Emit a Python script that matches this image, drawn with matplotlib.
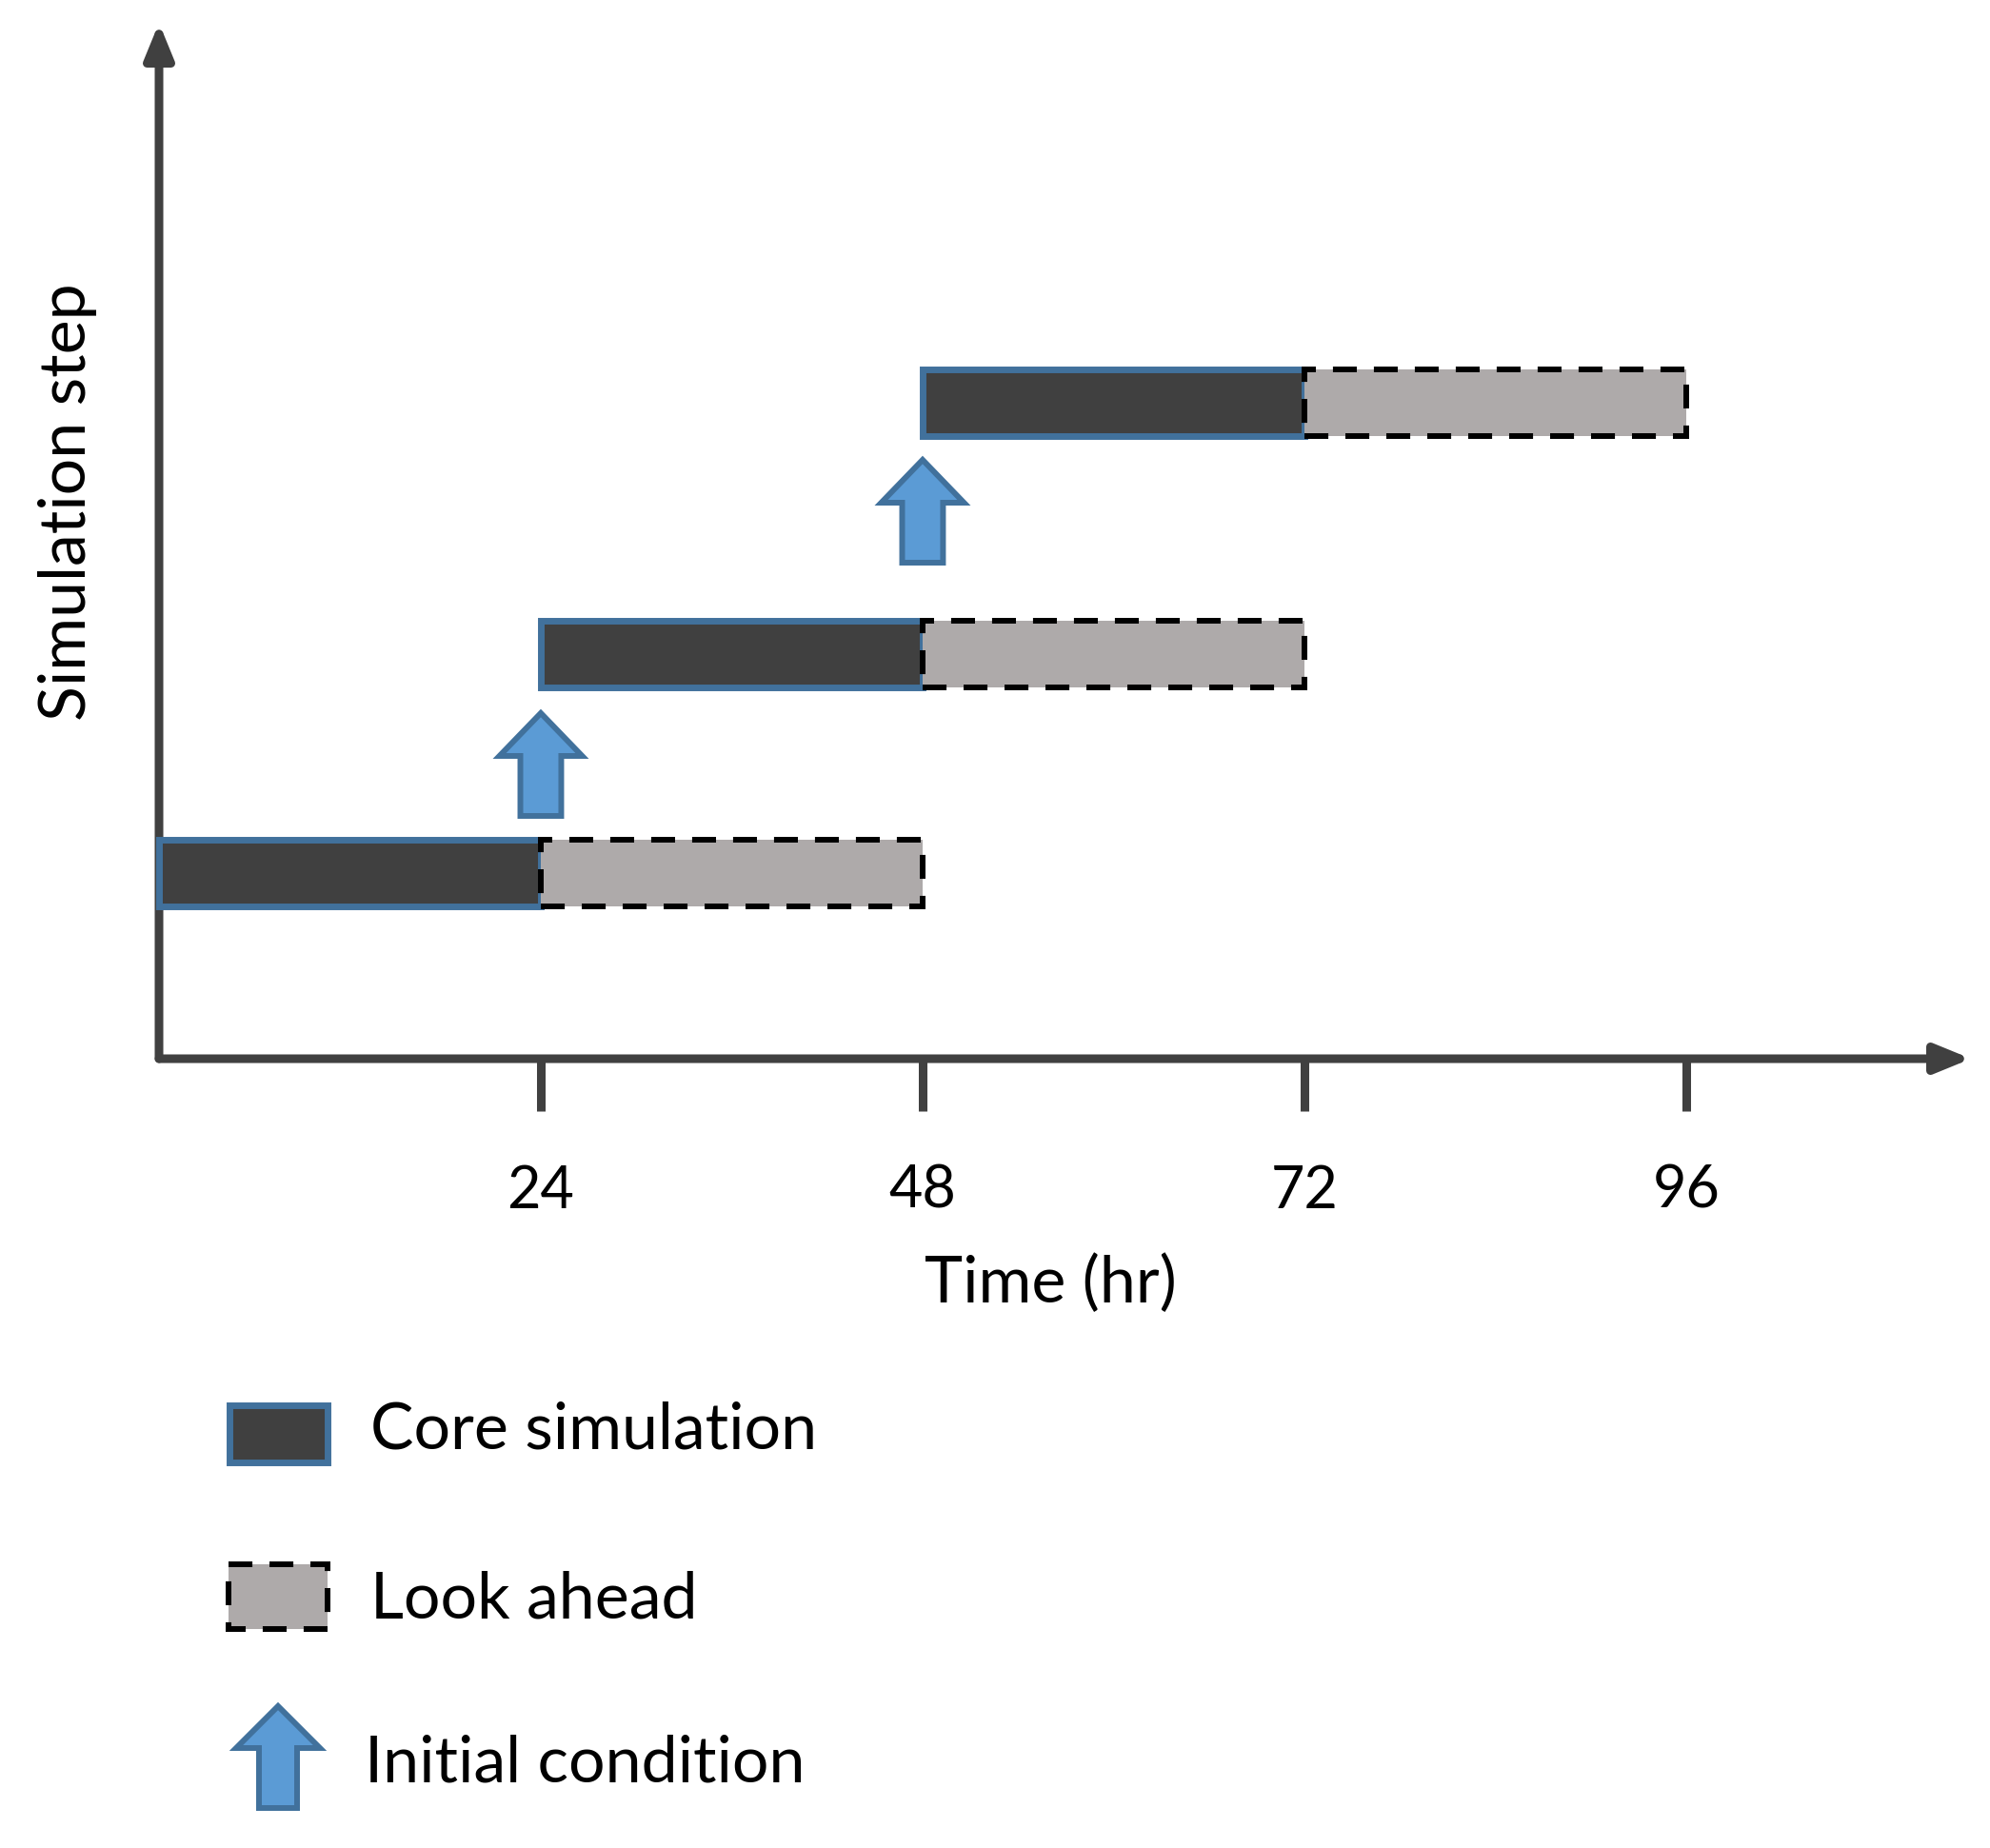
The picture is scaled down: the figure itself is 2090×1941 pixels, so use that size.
import matplotlib.pyplot as plt
from matplotlib.patches import FancyArrow, Rectangle

plt.rcParams['font.family'] = ['Lato', 'DejaVu Sans']

# simulation windows, in hours
core_start = [0, 24, 48]
core_len = [24, 24, 24]
look_len = [24, 24, 24]
# vertical level of each simulation step (arbitrary units)
step_level = [1.945, 4.255, 6.89]

# initial condition hand-over arrows
ic_time = [24, 48]
ic_base = [2.55, 5.21]
ic_len = 1.08

hour_ticks = [24, 48, 72, 96]
tick_labels = ['24', '48', '72', '96']
legend_labels = ['Core simulation', 'Look ahead', 'Initial condition']

core_fill = '#404040'
core_edge = '#41719C'
look_fill = '#AEAAAA'
arrow_fill = '#5B9BD5'
axis_col = '#404040'
dash = (0, (4.2, 3.0))

W, H = 2090, 1941
fig = plt.figure(figsize=(W / 100, H / 100), dpi=100)
ax = fig.add_axes([167 / W, 1 - 1112 / H, 1903 / W, 1088 / H])
ax.set_xlim(0, 113.9)
ax.set_ylim(0, 10.88)
for s in ax.spines.values():
    s.set_visible(False)

# bars: core first, look ahead on top so its dashed edge shows
look_start = [s + l for s, l in zip(core_start, core_len)]
core = ax.barh(step_level, core_len, left=core_start, height=0.70,
               color=core_fill, edgecolor=core_edge, linewidth=5, zorder=2)
look = ax.barh(step_level, look_len, left=look_start, height=0.70,
               color=look_fill, edgecolor='black', linewidth=4.3, linestyle=dash,
               zorder=2)
for p in list(core) + list(look):
    p.set_clip_on(False)

# initial condition arrows
for t, b in zip(ic_time, ic_base):
    ax.add_patch(FancyArrow(t, b, 0, ic_len, width=2.57, head_width=5.2,
                            head_length=0.45, length_includes_head=True,
                            fc=arrow_fill, ec=core_edge, lw=4.3, clip_on=False,
                            zorder=2))

# axis lines with arrow heads, kept under the bars
aprops = dict(arrowstyle='-|>,head_length=22,head_width=9', mutation_scale=1,
              lw=6.5, color=axis_col, shrinkA=0, shrinkB=0)
ax.annotate('', xy=(1, 0), xytext=(0, 0), xycoords='axes fraction',
            arrowprops=aprops, annotation_clip=False, zorder=1)
ax.annotate('', xy=(0, 1), xytext=(0, 0), xycoords='axes fraction',
            arrowprops=aprops, annotation_clip=False, zorder=1)

ax.set_xticks(hour_ticks, tick_labels)
ax.set_yticks([])
ax.tick_params(axis='x', direction='out', length=39.6, width=6.5,
               color=axis_col, labelsize=44, pad=40)

fig.text(1103 / W, 1 - 1368 / H, 'Time (hr)', ha='center', va='baseline', fontsize=49)
fig.text(71 / W, 1 - 527 / H, 'Simulation step', ha='center', va='center',
         rotation=90, fontsize=49)

# legend drawn in pixel coordinates
lg = fig.add_axes([0, 0, 1, 1])
lg.set_xlim(0, W)
lg.set_ylim(H, 0)
lg.axis('off')
lg.add_patch(Rectangle((240.5, 1475.5), 103, 60, fc=core_fill, ec=core_edge, lw=5))
lg.add_patch(Rectangle((240, 1643), 104, 68, fc=look_fill, ec='black', lw=4.3, ls=dash))
lg.add_patch(FancyArrow(292, 1899, 0, -107, width=40, head_width=88, head_length=44,
                        length_includes_head=True, fc=arrow_fill, ec=core_edge, lw=4.3))
for lab, x, y in zip(legend_labels, [389, 389, 383], [1522, 1700, 1872]):
    lg.text(x, y, lab, ha='left', va='baseline', fontsize=49)

fig.savefig('out.png', dpi=100, facecolor='white')
